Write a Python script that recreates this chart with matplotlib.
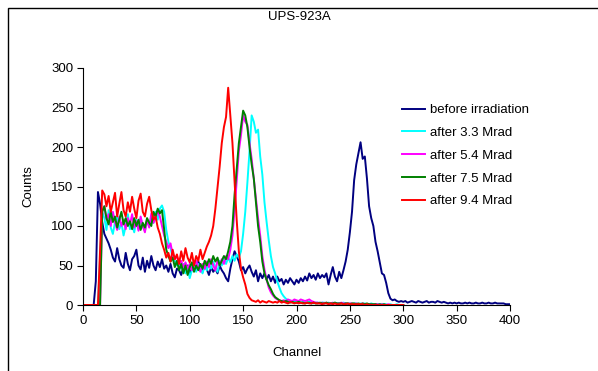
import numpy as np
from matplotlib import pyplot as plt
from matplotlib.patches import Rectangle

plt.rcParams["font.family"] = ["Liberation Sans", "DejaVu Sans"]

# MCA spectra of the UPS-923A sample, 2-channel bins
channel_before = np.arange(0, 402, 2)
channel_irr = np.arange(0, 302, 2)

before = [
    0, 0, 0, 0, 0, 0, 30, 143, 128, 105,
    90, 84, 78, 70, 60, 55, 72, 58, 50, 47,
    66, 52, 44, 58, 62, 70, 50, 45, 60, 42,
    56, 47, 62, 50, 44, 55, 48, 58, 46, 50,
    42, 52, 40, 35, 46, 44, 38, 48, 42, 50,
    40, 46, 52, 44, 55, 48, 42, 50, 45, 38,
    48, 42, 46, 40, 50, 44, 40, 34, 30, 46,
    58, 68, 62, 55, 44, 48, 40, 46, 50, 42,
    36, 44, 30, 40, 34, 40, 32, 38, 30, 36,
    28, 36, 30, 33, 26, 32, 28, 34, 30, 26,
    32, 28, 34, 30, 36, 31, 40, 34, 38, 32,
    40, 34, 38, 35, 40, 26, 38, 48, 36, 30,
    42, 34, 44, 55, 70, 92, 118, 158, 178, 192,
    206, 185, 188, 160, 125, 110, 100, 80, 68, 54,
    40, 38, 28, 15, 8, 6, 7, 5, 4, 5,
    4, 5, 3, 4, 5, 4, 3, 5, 4, 3,
    4, 5, 3, 4, 4, 3, 5, 4, 3, 4,
    3, 2, 3, 2, 3, 2, 3, 2, 2, 3,
    2, 3, 2, 2, 3, 2, 2, 3, 2, 2,
    3, 2, 2, 3, 2, 2, 2, 2, 1, 1,
    1,
]

after_3_3 = [
    0, 0, 0, 0, 0, 0, 0, 0, 60, 118,
    110, 95, 120, 98, 90, 105, 112, 96, 104, 88,
    100, 115, 96, 102, 92, 108, 98, 110, 100, 94,
    106, 100, 112, 104, 118, 108, 122, 126, 118, 95,
    80, 72, 60, 56, 50, 54, 46, 52, 40, 48,
    34, 44, 50, 42, 52, 46, 40, 50, 44, 52,
    46, 55, 48, 42, 56, 50, 58, 52, 60, 54,
    62, 56, 64, 60, 68, 90, 118, 155, 195, 240,
    232, 218, 222, 188, 165, 130, 105, 82, 62, 48,
    40, 30, 22, 15, 11, 8, 6, 5, 4, 5,
    3, 4, 3, 4, 3, 3, 4, 3, 2, 3,
    3, 2, 3, 3, 2, 3, 2, 2, 3, 2,
    2, 2, 3, 2, 2, 2, 1, 2, 2, 1,
    2, 1, 2, 1, 1, 2, 1, 1, 1, 1,
    1, 1, 1, 0, 1, 0, 0, 1, 0, 0,
    0,
]

after_5_4 = [
    0, 0, 0, 0, 0, 0, 0, 0, 0, 120,
    125, 108, 115, 100, 118, 105, 95, 112, 100, 108,
    96, 110, 102, 115, 98, 106, 94, 112, 100, 92,
    108, 98, 116, 104, 110, 120, 112, 100, 88, 80,
    72, 78, 64, 58, 62, 52, 56, 48, 54, 46,
    52, 44, 50, 56, 48, 42, 52, 46, 55, 48,
    58, 50, 44, 56, 50, 58, 52, 62, 58, 70,
    88, 120, 158, 195, 215, 240, 232, 228, 205, 185,
    160, 135, 110, 88, 62, 45, 32, 22, 16, 12,
    9, 7, 6, 5, 6, 5, 7, 6, 5, 7,
    6, 5, 7, 6, 5, 6, 7, 5, 4, 3,
    3, 2, 3, 2, 3, 2, 2, 3, 2, 2,
    2, 3, 2, 2, 1, 2, 2, 1, 2, 1,
    1, 2, 1, 1, 1, 1, 0, 1, 1, 0,
    1, 0, 0, 1, 0, 0, 0, 0, 0, 0,
    0,
]

after_7_5 = [
    0, 0, 0, 0, 0, 0, 0, 0, 0, 118,
    125, 110, 102, 118, 105, 112, 98, 108, 118, 102,
    110, 100, 106, 96, 110, 100, 108, 95, 104, 98,
    110, 104, 100, 118, 112, 122, 116, 120, 96, 70,
    62, 55, 60, 48, 56, 44, 52, 40, 50, 38,
    48, 54, 42, 50, 44, 52, 46, 56, 50, 58,
    52, 62, 55, 60, 50, 56, 62, 58, 68, 80,
    100, 140, 172, 205, 225, 246, 240, 225, 200, 178,
    160, 130, 100, 80, 55, 40, 32, 25, 20, 14,
    10, 8, 6, 5, 4, 5, 4, 3, 4, 3,
    3, 4, 3, 3, 2, 3, 3, 2, 3, 2,
    2, 3, 2, 2, 3, 2, 2, 2, 3, 2,
    2, 2, 1, 2, 2, 1, 2, 2, 1, 2,
    1, 2, 1, 2, 1, 1, 1, 1, 0, 1,
    0, 1, 0, 0, 0, 0, 0, 0, 0, 0,
    0,
]

after_9_4 = [
    0, 0, 0, 0, 0, 0, 0, 0, 70, 145,
    140, 125, 138, 118, 130, 142, 112, 128, 143, 120,
    112, 130, 118, 137, 122, 110, 132, 141, 118, 112,
    128, 137, 120, 108, 112, 98, 90, 78, 70, 60,
    66, 55, 70, 58, 64, 52, 68, 56, 72, 60,
    54, 66, 50, 62, 56, 70, 58, 66, 74, 80,
    88, 100, 122, 148, 175, 205, 225, 238, 275, 240,
    205, 155, 107, 68, 46, 35, 26, 14, 9, 6,
    5, 4, 6, 3, 5, 4, 3, 5, 4, 3,
    4, 3, 5, 3, 4, 3, 2, 4, 3, 2,
    3, 2, 3, 2, 2, 3, 2, 2, 3, 2,
    2, 2, 1, 2, 2, 1, 2, 1, 2, 1,
    1, 2, 1, 1, 2, 1, 1, 1, 1, 1,
    1, 1, 0, 1, 0, 0, 0, 0, 0, 0,
    0, 0, 0, 0, 0, 0, 0, 0, 0, 0,
    0,
]

series = [
    (channel_before, before, "#000080", "before irradiation"),
    (channel_irr, after_3_3, "#00ffff", "after 3.3 Mrad"),
    (channel_irr, after_5_4, "#ff00ff", "after 5.4 Mrad"),
    (channel_irr, after_7_5, "#008000", "after 7.5 Mrad"),
    (channel_irr, after_9_4, "#ff0000", "after 9.4 Mrad"),
]

W, H = 598, 371
fig = plt.figure(figsize=(W / 100, H / 100), dpi=100)
ax = fig.add_axes([83 / W, 1 - 305 / H, 427 / W, 237 / H])

for x, y, color, label in series:
    ax.plot(x, y, color=color, lw=1.4, label=label)

ax.set_xlim(0, 400)
ax.set_ylim(0, 300)
ax.set_xticks(np.arange(0, 401, 50))
ax.set_yticks(np.arange(0, 301, 50))
for side in ["top", "right"]:
    ax.spines[side].set_visible(False)
for side in ["left", "bottom"]:
    ax.spines[side].set_linewidth(0.8)
ax.tick_params(direction="out", length=4, width=0.8, labelsize=9.5, pad=3)

fig.text(0.5, 1 - 17 / H, "UPS-923A", ha="center", va="center", fontsize=9.5)
fig.text(28 / W, 1 - 186 / H, "Counts", rotation=90, ha="center", va="center", fontsize=9.5)
fig.text(297 / W, 1 - 353 / H, "Channel", ha="center", va="center", fontsize=9.5)

fig.legend(loc="upper left", bbox_to_anchor=(402 / W, 1 - 104 / H), frameon=False,
           handlelength=1.75, handletextpad=0.4, labelspacing=0.8,
           borderpad=0, borderaxespad=0, fontsize=9.5)

# chart-area frame
fig.add_artist(Rectangle((7.5 / W, -0.2), 2, 1.2 - 7.5 / H, transform=fig.transFigure,
                         fill=False, edgecolor="black", lw=1))

fig.savefig("out.png", dpi=100)
